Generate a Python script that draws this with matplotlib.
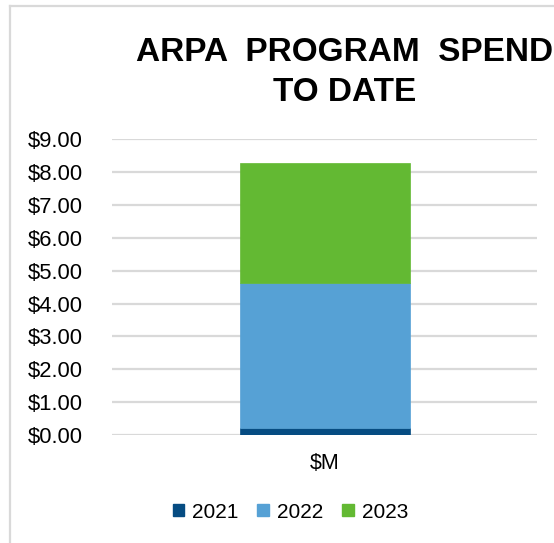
import matplotlib
matplotlib.use("Agg")
import matplotlib.pyplot as plt
from matplotlib.lines import Line2D
from matplotlib.patches import Patch

categories = ["$M"]
years = ["2021", "2022", "2023"]
values_2021 = [0.21]
values_2022 = [4.41]
values_2023 = [3.65]
colors = ["#064c82", "#56a1d5", "#63b933"]
yticks = [0, 1, 2, 3, 4, 5, 6, 7, 8, 9]
ytick_labels = ["$%.2f" % v for v in yticks]

plt.rcParams['font.family'] = ['Liberation Sans', 'DejaVu Sans']

W, H = 554, 543
fig = plt.figure(figsize=(W / 100, H / 100), dpi=100)
ax = fig.add_axes([112 / W, 1 - 435 / H, (537 - 112) / W, (435 - 139.3) / H])

series = [values_2021, values_2022, values_2023]
bottom = [0.0] * len(categories)
x = list(range(len(categories)))
for name, vals, c in zip(years, series, colors):
    ax.bar(x, vals, width=0.4, bottom=bottom, color=c, edgecolor=c, linewidth=0.5,
           label=name, zorder=3)
    bottom = [b + v for b, v in zip(bottom, vals)]

ax.set_xlim(-0.5, 0.5)
ax.set_ylim(0, 9)
ax.set_yticks(yticks)
ax.set_yticklabels(ytick_labels, fontsize=15.8)
ax.set_xticks(x)
ax.set_xticklabels(categories, fontsize=15.5)
ax.tick_params(axis='y', length=0, pad=21)
ax.tick_params(axis='x', length=0, pad=13)
ax.grid(axis='y', color='#d9d9d9', linewidth=1.6, zorder=0)
for s in ax.spines.values():
    s.set_visible(False)

fig.text(344.5 / W, 1 - 61 / H, "ARPA  PROGRAM  SPEND", ha='center', va='baseline',
         fontsize=24, fontweight='bold')
fig.text(344.5 / W, 1 - 101 / H, "TO DATE", ha='center', va='baseline',
         fontsize=24, fontweight='bold')

handles = [Patch(facecolor=c, edgecolor=c) for c in colors]
fig.legend(handles, years, loc='center', bbox_to_anchor=(290.5 / W, 1 - 512 / H),
           ncol=3, frameon=False, fontsize=15, handlelength=0.55, handleheight=0.55,
           handletextpad=0.4, columnspacing=0.9)

# outer chart border (clipped at right and bottom)
fig.add_artist(Line2D([10 / W, 10 / W], [0, 1 - 6 / H], color='#d9d9d9', linewidth=1.6,
                      transform=fig.transFigure))
fig.add_artist(Line2D([10 / W, 1], [1 - 6 / H, 1 - 6 / H], color='#d9d9d9', linewidth=1.6,
                      transform=fig.transFigure))

fig.savefig("out.png", dpi=100)
